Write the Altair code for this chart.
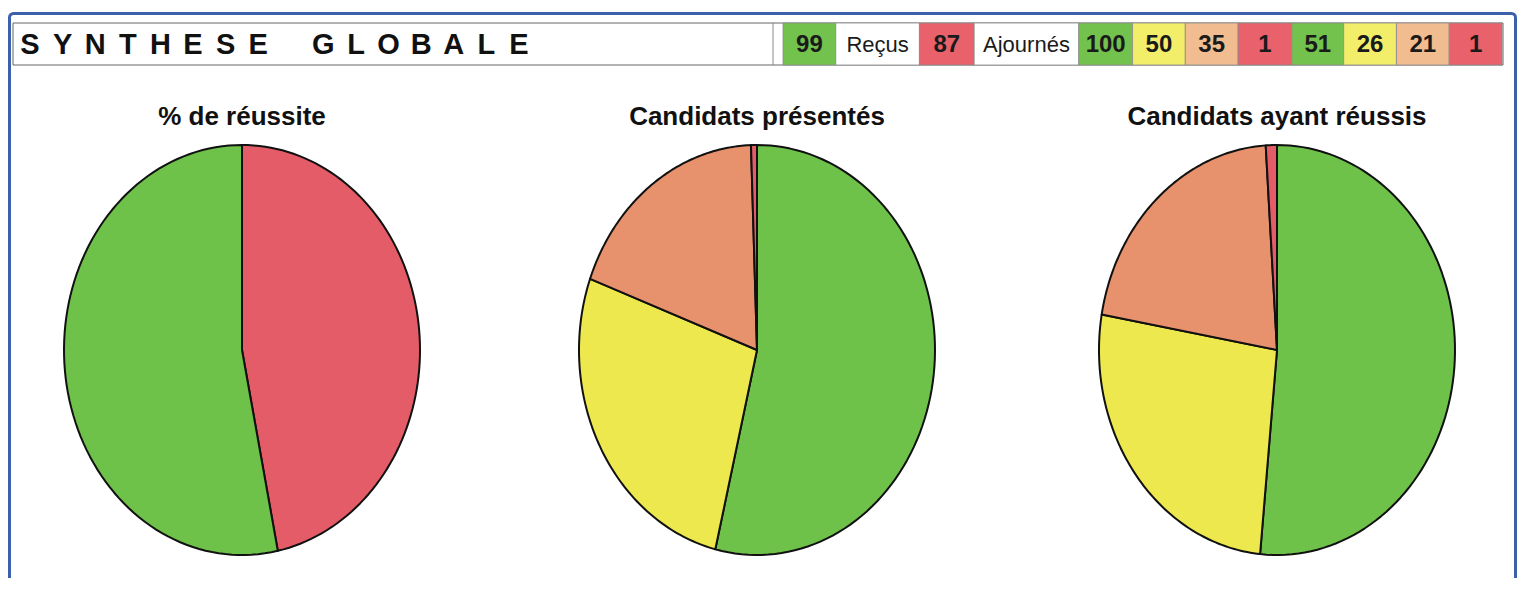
import altair as alt
import pandas as pd

# ---------------- data ----------------
TITLE = "SYNTHESE GLOBALE"

header_labels = ["99", "Reçus", "87", "Ajournés", "100", "50", "35", "1", "51", "26", "21", "1"]
header_kinds = ["green", "white", "red", "white", "green", "yellow", "salmon", "red",
                "green", "yellow", "salmon", "red"]

pie_titles = ["% de réussite", "Candidats présentés", "Candidats ayant réussis"]

pie1_kinds = ["red", "green"]          # Ajournés, Reçus
pie1_values = [87, 99]
pie2_kinds = ["green", "yellow", "salmon", "red"]
pie2_values = [100, 50, 35, 1]
pie3_kinds = ["green", "yellow", "salmon", "red"]
pie3_values = [51, 26, 21, 1]

# ---------------- style / layout ----------------
header_units = [53, 84, 55, 105, 54, 53, 53, 54, 52, 53, 53, 53]
HEADER_FILL = {"green": "#72c24d", "white": "#ffffff", "red": "#e8616b",
               "yellow": "#f2ee6a", "salmon": "#f1bd90"}
PIE_FILL = {"green": "#6ec24a", "red": "#e45c67", "yellow": "#ede84e", "salmon": "#e8916d"}

W, H = 1509, 570
SANS = "Liberation Sans, Arial, sans-serif"
N = 90
one = pd.DataFrame({"a": [0]})

# ---------------- decoration ----------------
border = alt.Chart(one).mark_rect(fill="transparent", stroke="#3d60aa", strokeWidth=3,
                                  cornerRadius=4).encode(
    x=alt.value(1.5), x2=alt.value(W - 1.5), y=alt.value(5.5), y2=alt.value(H + 30))

frame = alt.Chart(one).mark_rect(fill="white", stroke="#666666", strokeWidth=1).encode(
    x=alt.value(5), x2=alt.value(1495), y=alt.value(15), y2=alt.value(57))

sep = alt.Chart(one).mark_rule(color="#888888", strokeWidth=1).encode(
    x=alt.value(765), y=alt.value(15), y2=alt.value(57))

# ---------------- header letters ----------------
letters = pd.DataFrame({"ch": list(TITLE), "i": list(range(len(TITLE)))})
title_text = alt.Chart(letters).transform_filter("datum.ch != ' '").mark_text(
    font=SANS, fontSize=29, fontWeight="bold", color="#111111", baseline="middle"
).encode(
    x=alt.X("i:Q", scale=alt.Scale(domain=[0, len(TITLE) - 1], range=[22, 511]), axis=None),
    y=alt.value(37),
    text="ch:N",
)

# ---------------- header cells ----------------
hdf = pd.DataFrame({
    "label": header_labels,
    "fill": [HEADER_FILL[k] for k in header_kinds],
    "kind": header_kinds,
    "unit": header_units,
    "idx": list(range(len(header_labels))),
})
hx = alt.Scale(domain=[0, sum(header_units)], range=[775, 1494])
hbase = alt.Chart(hdf).transform_window(
    x1="sum(unit)", sort=[alt.SortField("idx")], frame=[None, 0]
).transform_calculate(x0="datum.x1 - datum.unit", mid="datum.x1 - datum.unit / 2")

cells = hbase.mark_rect(stroke="#8a8a8a", strokeWidth=0.8).encode(
    x=alt.X("x0:Q", scale=hx, axis=None), x2="x1:Q",
    y=alt.value(15), y2=alt.value(57),
    fill=alt.Fill("fill:N", scale=None),
)
nums = hbase.transform_filter("datum.kind != 'white'").mark_text(
    font=SANS, fontSize=24, fontWeight="bold", color="#1a1a1a", baseline="middle"
).encode(x=alt.X("mid:Q", scale=hx, axis=None), y=alt.value(37), text="label:N")
words = hbase.transform_filter("datum.kind == 'white'").mark_text(
    font=SANS, fontSize=22, color="#1a1a1a", baseline="middle"
).encode(x=alt.X("mid:Q", scale=hx, axis=None), y=alt.value(37), text="label:N")


# ---------------- pies (elliptical, drawn from slice values) ----------------
def pie(values, kinds, title, xr, yr):
    df = pd.DataFrame({
        "kind": kinds, "value": values,
        "fill": [PIE_FILL[k] for k in kinds],
        "order": list(range(len(values))),
    })
    xs = alt.Scale(domain=[-1, 1], range=xr, nice=False, zero=False)
    ys = alt.Scale(domain=[-1, 1], range=yr, nice=False, zero=False)
    slices = alt.Chart(df).transform_joinaggregate(
        total="sum(value)"
    ).transform_window(
        cum="sum(value)", sort=[alt.SortField("order")], frame=[None, 0]
    ).transform_calculate(
        start="datum.cum - datum.value", pts=f"sequence(-1, {N + 2})"
    ).transform_flatten(["pts"]).transform_calculate(
        k=f"clamp(datum.pts, 0, {N})",
        edge=f"datum.pts >= 0 && datum.pts <= {N}",
    ).transform_calculate(
        ang=f"2 * PI * (datum.start + datum.value * datum.k / {N}) / datum.total"
    ).transform_calculate(
        px="datum.edge ? sin(datum.ang) : 0",
        py="datum.edge ? cos(datum.ang) : 0",
    ).mark_line(filled=True, stroke="#111111", strokeWidth=2, strokeJoin="round").encode(
        x=alt.X("px:Q", scale=xs, axis=None),
        y=alt.Y("py:Q", scale=ys, axis=None),
        order="pts:Q",
        detail="order:N",
        fill=alt.Fill("fill:N", scale=None),
    )
    ttl = alt.Chart(pd.DataFrame({"t": [title]})).mark_text(
        font=SANS, fontSize=26, fontWeight="bold", color="#111111",
        baseline="alphabetic", dy=-20
    ).encode(x=alt.datum(0), y=alt.datum(1), text="t:N")
    return alt.layer(slices, ttl)


p1 = pie(pie1_values, pie1_kinds, pie_titles[0], [56, 412], [547, 137])
p2 = pie(pie2_values, pie2_kinds, pie_titles[1], [571, 927], [547, 137])
p3 = pie(pie3_values, pie3_kinds, pie_titles[2], [1091, 1447], [547, 137])

chart = alt.layer(
    frame, sep, cells, nums, words, title_text, p1, p2, p3, border
).resolve_scale(x="independent", y="independent").properties(
    width=W, height=H, padding=0,
    autosize=alt.AutoSizeParams(type="none"),
    background="white",
).configure_view(stroke=None)

chart.save("out.html", embed_options={"renderer": "svg", "actions": False})
